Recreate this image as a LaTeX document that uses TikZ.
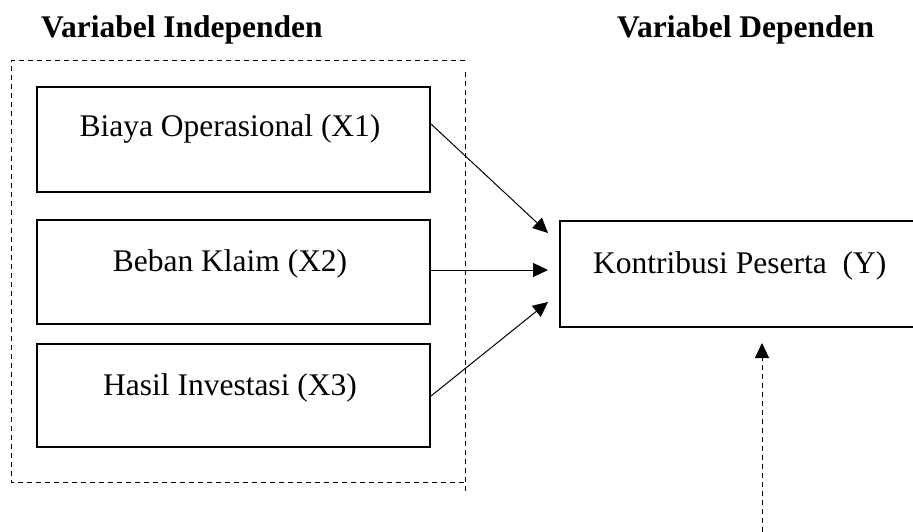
\documentclass[tikz,border=0pt]{standalone}
\usepackage{fontspec}
\setmainfont{Liberation Serif}
\usetikzlibrary{arrows.meta}
\begin{document}
\begin{tikzpicture}[x=1pt,y=-1pt,
  varbox/.style={draw=black,line width=2pt,rectangle,inner sep=0pt,anchor=north west},
  lbl/.style={inner sep=0pt,font=\fontsize{31.5}{36}\selectfont},
  ttl/.style={inner sep=0pt,font=\fontsize{31.5}{36}\selectfont\bfseries,anchor=base west},
  arr/.style={line width=1pt,-{Triangle[length=15pt,width=14pt]}},
  dsh/.style={line width=1pt,dash pattern=on 5pt off 4pt}]
\useasboundingbox (0,0) rectangle (913,532);
% titles
\node[ttl] (t1) at (41,38) {Variabel Independen};
\node[ttl] (t2) at (617,38) {Variabel Dependen};
% dashed frame
\coordinate (fa) at (11,61);
\coordinate (fb) at (465,61);
\coordinate (fc) at (11,482);
\coordinate (fd) at (465,482);
\coordinate (fe) at (465,72);
\coordinate (ff) at (465,492);
\draw[dsh] (fb) -- (fa) -- (fc) -- (fd);
\draw[dsh] (fe) -- (ff);
% boxes
\node[varbox,minimum width=393pt,minimum height=105pt] (x1) at (36,86) {};
\node[varbox,minimum width=393pt,minimum height=104pt] (x2) at (36,219) {};
\node[varbox,minimum width=393pt,minimum height=103pt] (x3) at (36,343) {};
\node[varbox,minimum width=380pt,minimum height=106pt] (y) at (559,220) {};
% labels
\node[lbl,anchor=base] (l1) at (230,137) {Biaya Operasional (X1)};
\node[lbl,anchor=base] (l2) at (230,271) {Beban Klaim (X2)};
\node[lbl,anchor=base] (l3) at (230,395) {Hasil Investasi (X3)};
\node[lbl,anchor=base west] (ly) at (593,273) {Kontribusi Peserta\ \ (Y)};
% arrows
\coordinate (e1) at (548,233);
\coordinate (e2) at (548,270);
\coordinate (e3) at (548,302);
\draw[arr] (x1.east |- 0,124) -- (e1);
\draw[arr] (x2.east |- 0,270) -- (e2);
\draw[arr] (x3.east |- 0,396) -- (e3);
\coordinate (b1) at (762,532);
\coordinate (yt) at (762,343);
\draw[dsh,-{Triangle[length=15pt,width=14pt]}] (b1) -- (yt);
\end{tikzpicture}
\end{document}
